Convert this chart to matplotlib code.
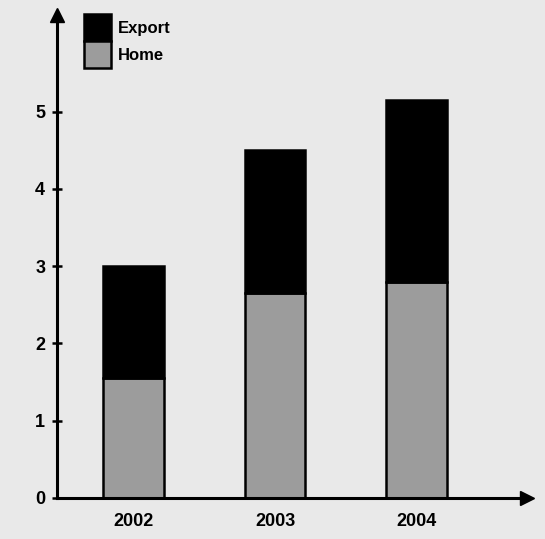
import matplotlib.pyplot as plt
import numpy as np

years = ["2002", "2003", "2004"]
home = [1.55, 2.65, 2.8]
export = [1.45, 1.85, 2.35]

bg = "#e9e9e9"
home_col = "#9c9c9c"

plt.rcParams['font.family'] = ['Liberation Sans', 'DejaVu Sans']
plt.rcParams['font.weight'] = 'bold'

fig = plt.figure(figsize=(5.45, 5.39), dpi=100)
fig.patch.set_facecolor(bg)
ax = fig.add_axes([57/545, 41/539, (527-57)/545, (498-15)/539])
ax.set_facecolor(bg)

x = np.arange(len(years))
ax.bar(x, home, width=0.43, color=home_col, edgecolor="black", linewidth=1.8, label="Home")
ax.bar(x, export, width=0.43, bottom=home, color="black", edgecolor="black", linewidth=1.8, label="Export")

ax.set_xlim(-0.54, 2.78)
ax.set_ylim(0, 6.25)

for s in ["top", "right"]:
    ax.spines[s].set_visible(False)
ax.spines["left"].set_linewidth(2.2)
ax.spines["bottom"].set_linewidth(2.2)

# arrow heads at the axis ends
ax.plot(0, 1, marker="^", color="black", markersize=10, transform=ax.transAxes, clip_on=False)
ax.plot(1, 0, marker=">", color="black", markersize=10, transform=ax.transAxes, clip_on=False)

ax.set_yticks([0, 1, 2, 3, 4, 5])
ax.tick_params(axis="y", direction="inout", length=7, width=1.8, pad=5, labelsize=13)
ax.set_xticks(x)
ax.set_xticklabels(years)
ax.tick_params(axis="x", length=0, pad=11, labelsize=13)

h, l = ax.get_legend_handles_labels()
ax.legend(h[::-1], l[::-1], loc="upper left", bbox_to_anchor=(84/545, 1 - 14/539),
          bbox_transform=fig.transFigure, frameon=False, borderpad=0, borderaxespad=0,
          handlelength=1.6, handleheight=2.1, labelspacing=0, handletextpad=0.45,
          prop={"size": 12, "weight": "bold"})

fig.savefig("out.png", dpi=100, facecolor=bg)
